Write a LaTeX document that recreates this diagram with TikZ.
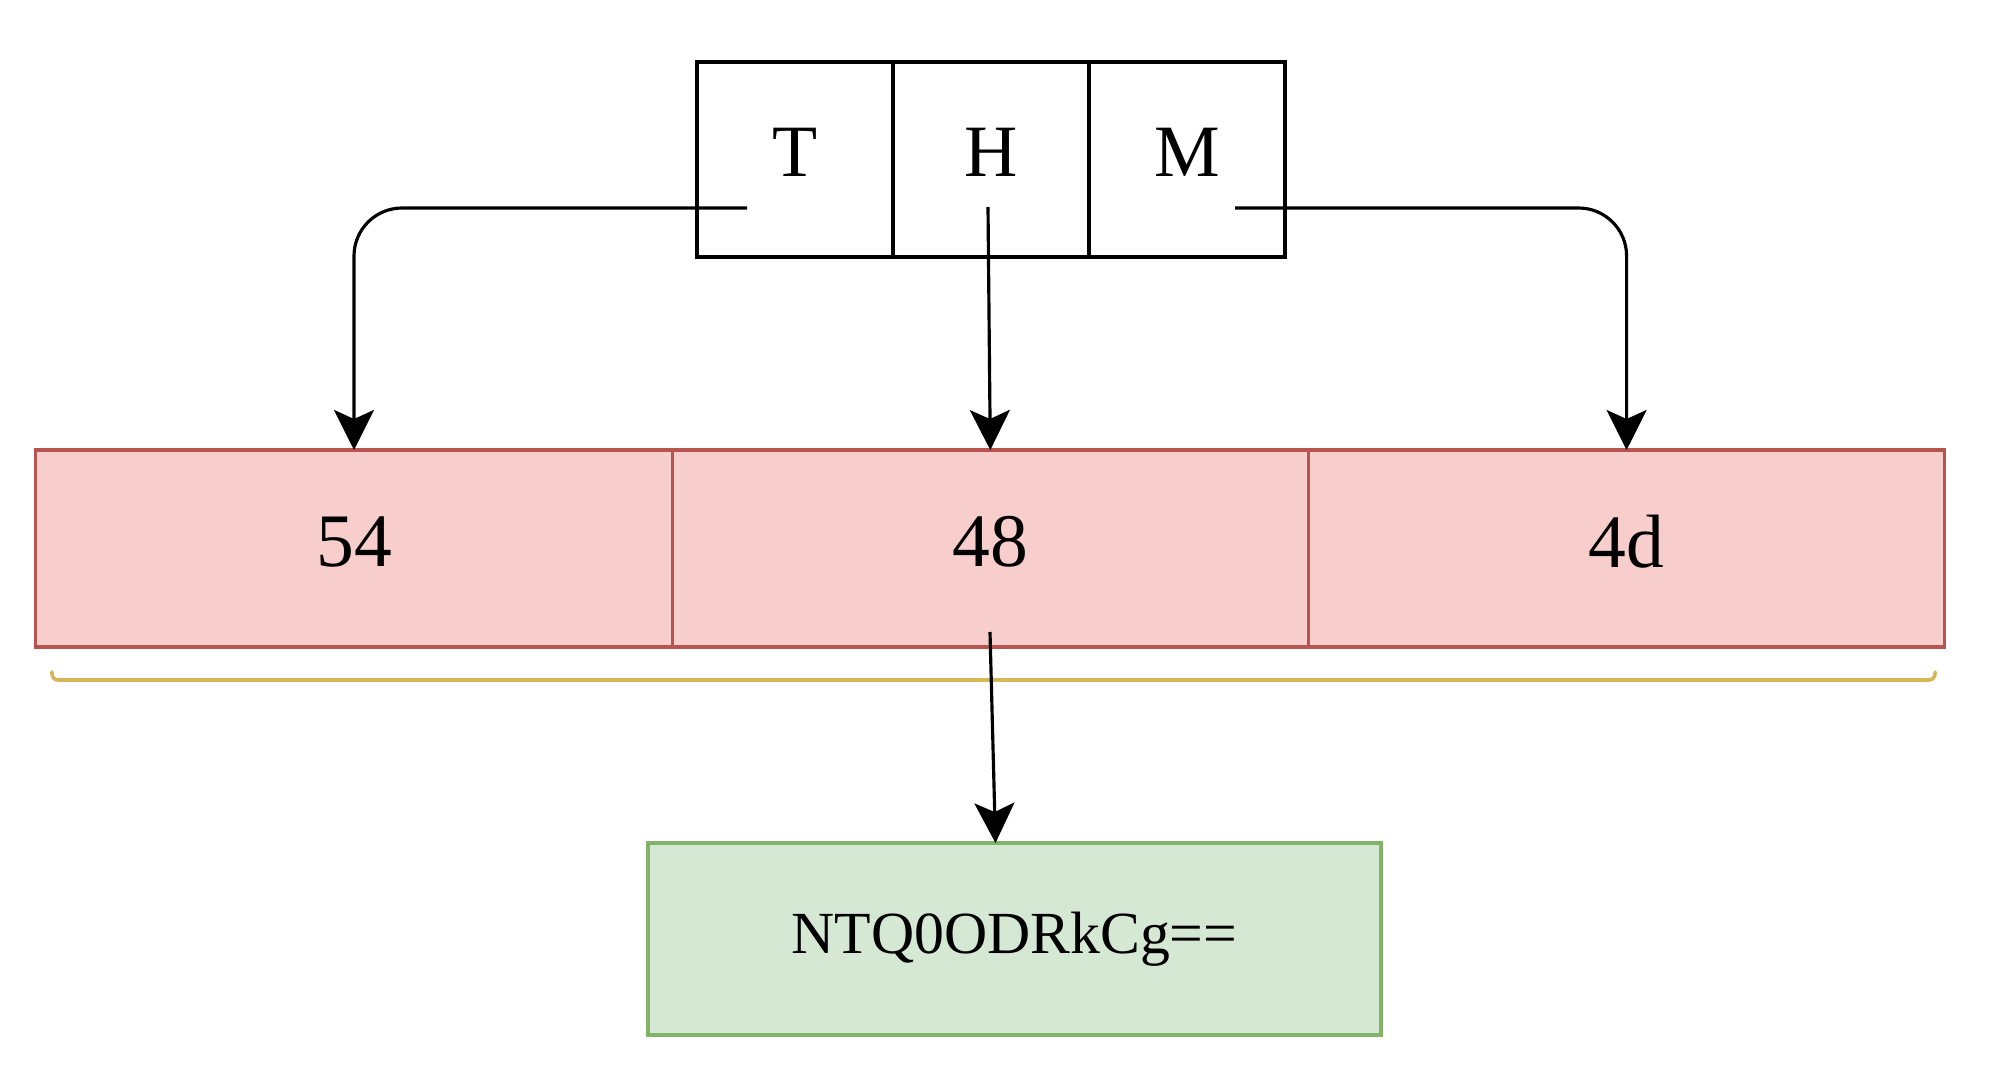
\documentclass[tikz,border=0pt]{standalone}
\usepackage{fontspec}
\setmainfont{Liberation Serif}
\usetikzlibrary{positioning,calc,arrows.meta}
\definecolor{redfill}{HTML}{F8CECC}
\definecolor{redline}{HTML}{B85450}
\definecolor{greenfill}{HTML}{D5E8D4}
\definecolor{greenline}{HTML}{82B366}
\definecolor{yellowline}{HTML}{D6B656}
\tikzset{
  charcell/.style={draw=black, line width=0.9pt, outer sep=0pt, inner sep=0pt,
    minimum width=1.96cm, minimum height=1.95cm, text depth=1.4mm,
    font=\fontsize{21}{25}\selectfont},
  hexcell/.style={draw=redline, fill=redfill, line width=0.9pt, outer sep=0pt, inner sep=0pt,
    minimum width=6.363cm, minimum height=1.97cm, text depth=1.4mm,
    font=\fontsize{21.5}{26}\selectfont},
  resultbox/.style={draw=greenline, fill=greenfill, line width=0.9pt, outer sep=0pt, inner sep=0pt,
    minimum width=7.33cm, minimum height=1.92cm,
    font=\fontsize{17}{21}\selectfont},
  conn/.style={draw=black, line width=0.9pt, -{Stealth[length=4mm, width=4mm, inset=0.9mm]}},
}
\begin{document}
\begin{tikzpicture}[node distance=0cm]
            \useasboundingbox (0,0) rectangle (20,10.76);
            \node[charcell] (t) at (7.95,9.165) {T};
            \node[charcell, right=of t] (h) {H};
            \node[charcell, right=of h] (m) {M};
            \node[hexcell] (r54) at (3.54,5.275) {54};
            \node[hexcell, right=of r54] (r48) {48};
            \node[hexcell, right=of r48] (r4d) {4d};
            \node[resultbox] (res) at (10.145,1.37) {NTQ0ODRkCg==};
            \draw[draw=yellowline, line width=1pt, line cap=round, rounded corners=0.06cm]
                (0.52,4.04) -- (0.52,3.96) -- (19.35,3.96) -- (19.35,4.04);
            \coordinate (tout) at (7.47,8.68);
            \coordinate (hout) at (9.88,8.69);
            \coordinate (mout) at (12.35,8.68);
            \coordinate (sumout) at (9.90,4.44);
            \draw[conn, rounded corners=0.48cm] (tout) -| (r54.north);
            \draw[conn] (hout) -- (r48.north);
            \draw[conn, rounded corners=0.48cm] (mout) -| (r4d.north);
            \draw[conn] (sumout) -- ($(res.north)+(-0.19,0)$);
        \end{tikzpicture}
\end{document}
